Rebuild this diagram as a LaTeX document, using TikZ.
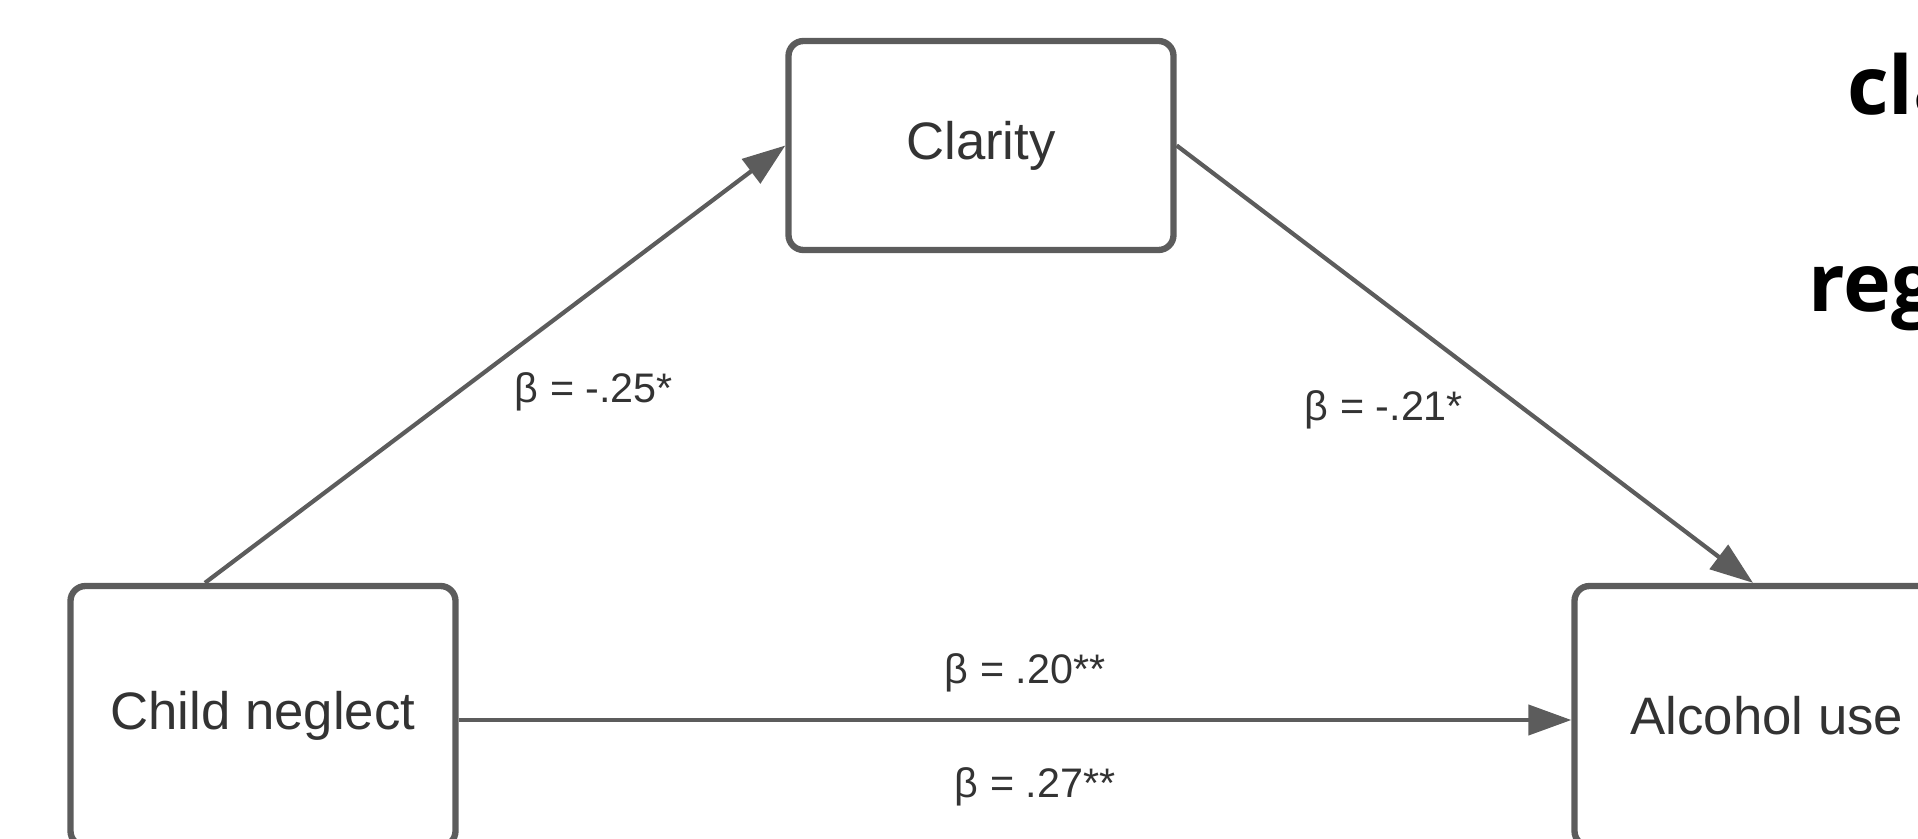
\documentclass[tikz,border=0pt]{standalone}
\usepackage{fontspec}
\setmainfont{Liberation Sans}
\newfontfamily\headfont{Open Sans}
\usepackage{tikz}
\usetikzlibrary{arrows.meta,positioning}

\definecolor{linegray}{RGB}{92,92,92}
\definecolor{textgray}{RGB}{51,51,51}

\begin{document}
\begin{tikzpicture}[
  font=\fontsize{30}{36}\selectfont,
  box/.style={draw=linegray, line width=3.6pt, rounded corners=0.3cm,
    minimum width=7.7cm, text=textgray},
  link/.style={draw=linegray, line width=2.4pt,
    -{Triangle[length=0.86cm,width=0.6cm]}},
  coef/.style={font=\fontsize{23.5}{28}\selectfont, text=textgray}
]

  % Canvas
  \useasboundingbox (0,0) rectangle (38.36,16.76);

  % Variables
  \node (clarity) at (19.62,13.85) [box, minimum height=4.18cm] {Clarity};
  \node (neglect) at (5.26,2.44) [box, minimum height=5.2cm] {Child neglect};
  \node (alcohol) at (35.34,2.44) [box, minimum height=5.2cm] {Alcohol use};

  % Paths
  \draw [link] ([xshift=-1.16cm]neglect.north) -- (clarity.west);
  \draw [link] (clarity.east) -- ([xshift=-0.28cm]alcohol.north);
  \draw [link] ([yshift=-0.08cm]neglect.east) -- ([yshift=-0.08cm]alcohol.west);

  % Coefficients
  \node (coefA) at (11.88,8.92) [coef] {β = -.25*};
  \node (coefB) at (27.68,8.56) [coef] {β = -.21*};
  \node (coefC) at (20.5,3.30) [coef] {β = .20**};
  \node (coefD) at (20.7,1.02) [coef] {β = .27**};

  % Heading (cut at the edge)
  \node (headA) at (36.94,14.46) [anchor=base west, inner sep=0pt,
    font=\headfont\bfseries\fontsize{46}{55}\selectfont] {cla};
  \node (headB) at (36.16,10.52) [anchor=base west, inner sep=0pt,
    font=\headfont\bfseries\fontsize{46}{55}\selectfont] {reg};

\end{tikzpicture}
\end{document}
